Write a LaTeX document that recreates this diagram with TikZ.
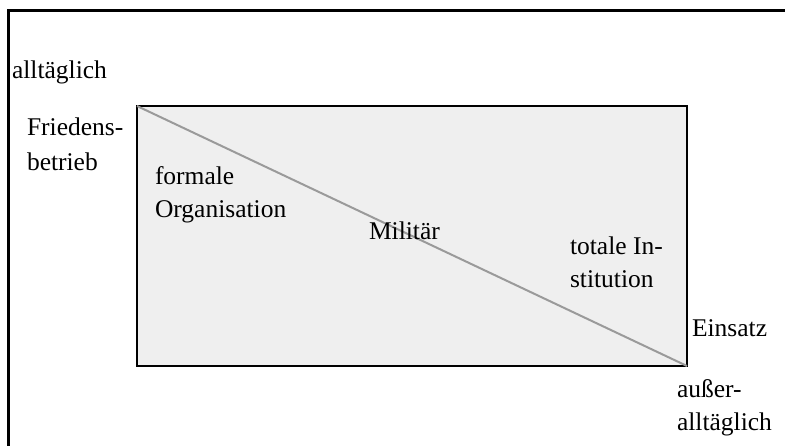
\documentclass[tikz,border=0pt]{standalone}
\usepackage{fontspec}
\setmainfont{Liberation Serif}
\begin{document}
\begin{tikzpicture}[x=1bp,y=-1bp,
  lbl/.style={inner sep=0pt,outer sep=0pt,anchor=base west,align=left,
    font=\fontsize{25.5bp}{33bp}\selectfont},
  frame/.style={line width=3bp,draw=black},
  box/.style={line width=2bp,draw=black,fill=boxgray},
  diag/.style={line width=2bp,draw=diaggray}]
\definecolor{boxgray}{HTML}{EFEFEF}
\definecolor{diaggray}{HTML}{9A9A9A}
\useasboundingbox (0,0) rectangle (785,446);
\begin{scope}
\clip (0,0) rectangle (785,446);
\draw[frame] (8,460) -- (8,11) -- (800,11);
\end{scope}
\coordinate (tl) at (137,106);
\coordinate (br) at (687,366);
\draw[box] (tl) rectangle (br);
\draw[diag] (tl) -- (br);
\node[lbl] (all) at (12,79) {alltäglich};
\node[lbl,font=\fontsize{25.5bp}{35bp}\selectfont] (fried) at (27,171) {Friedens-\\betrieb};
\node[lbl] (formal) at (155,218) {formale\\Organisation};
\node[lbl] (mil) at (369,240) {Militär};
\node[lbl] (total) at (570,288) {totale In-\\stitution};
\node[lbl] (eins) at (692,337) {Einsatz};
\node[lbl] (ausser) at (677,430) {außer-\\alltäglich};
\end{tikzpicture}
\end{document}
